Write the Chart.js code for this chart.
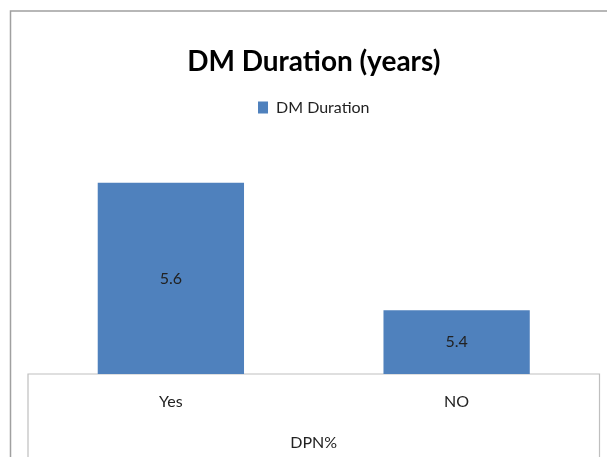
<!DOCTYPE html>
<html>
<head>
<meta charset="utf-8">
<script src="https://cdn.jsdelivr.net/npm/chart.js@4/dist/chart.umd.min.js"></script>
<style>
  html, body { margin: 0; padding: 0; background: #ffffff; }
  #wrap { width: 607px; height: 457px; position: relative; }
</style>
</head>
<body>
<div id="wrap"><canvas id="c"></canvas></div>
<script>
// Mean diabetes duration split by DPN status
const categories = ['Yes', 'NO'];
const durationValues = [5.6, 5.4];
const seriesName = 'DM Duration';
const chartTitle = 'DM Duration (years)';
const axisTitle = 'DPN%';
const yMin = 5.3;
const yMax = 5.69;

const FONT = 'Lato, "Open Sans", sans-serif';
const BAR_BLUE = '#4f81bd';

// Outer chart frame and the box around the category axis
const framePlugin = {
  id: 'frames',
  beforeDraw(chart) {
    const { ctx, chartArea, width, height } = chart;
    ctx.save();
    ctx.strokeStyle = '#a0a0a0';
    ctx.lineWidth = 1.5;
    ctx.beginPath();
    ctx.moveTo(10.5, height);
    ctx.lineTo(10.5, 11);
    ctx.lineTo(width, 11);
    ctx.stroke();

    ctx.strokeStyle = '#bfbfbf';
    ctx.lineWidth = 1.2;
    ctx.beginPath();
    ctx.moveTo(chartArea.left, height);
    ctx.lineTo(chartArea.left, chartArea.bottom);
    ctx.lineTo(chartArea.right, chartArea.bottom);
    ctx.lineTo(chartArea.right, height);
    ctx.stroke();
    ctx.restore();
  }
};

// Value text centred inside each bar
const valueLabelPlugin = {
  id: 'valueLabels',
  afterDraw(chart) {
    const ctx = chart.ctx;
    const meta = chart.getDatasetMeta(0);
    const values = chart.data.datasets[0].data;
    ctx.save();
    ctx.font = '16px ' + FONT;
    ctx.fillStyle = '#222222';
    ctx.textAlign = 'center';
    ctx.textBaseline = 'middle';
    meta.data.forEach((bar, i) => {
      const p = bar.getProps(['x', 'y', 'base'], true);
      const base = chart.scales.y.getPixelForValue(yMin);
      const cy = (p.y + base) / 2;
      ctx.fillText(String(values[i]), p.x, cy);
    });
    ctx.restore();
  }
};

new Chart(document.getElementById('c'), {
  type: 'bar',
  data: {
    labels: categories,
    datasets: [{
      label: seriesName,
      data: durationValues,
      backgroundColor: BAR_BLUE,
      borderWidth: 0,
      categoryPercentage: 0.512,
      barPercentage: 1.0
    }]
  },
  options: {
    responsive: true,
    maintainAspectRatio: false,
    animation: false,
    layout: { padding: { left: 28, right: 7.5, top: 0, bottom: 0 } },
    plugins: {
      title: {
        display: true,
        text: chartTitle,
        color: '#000000',
        font: { family: FONT, size: 28, weight: 'bold' },
        padding: { top: 45, bottom: 10.8 }
      },
      legend: {
        display: true,
        position: 'top',
        labels: {
          boxWidth: 10,
          boxHeight: 12,
          color: '#222222',
          font: { family: FONT, size: 16 },
          padding: 10
        }
      },
      tooltip: { enabled: false }
    },
    scales: {
      x: {
        grid: { display: false, drawTicks: false },
        border: { display: false },
        ticks: {
          color: '#222222',
          font: { family: FONT, size: 16 },
          padding: 18
        },
        title: {
          display: true,
          text: axisTitle,
          color: '#222222',
          font: { family: FONT, size: 16 },
          padding: { top: 4.2, bottom: 4.4 }
        }
      },
      y: {
        display: false,
        min: yMin,
        max: yMax
      }
    }
  },
  plugins: [framePlugin, valueLabelPlugin]
});
</script>
</body>
</html>
